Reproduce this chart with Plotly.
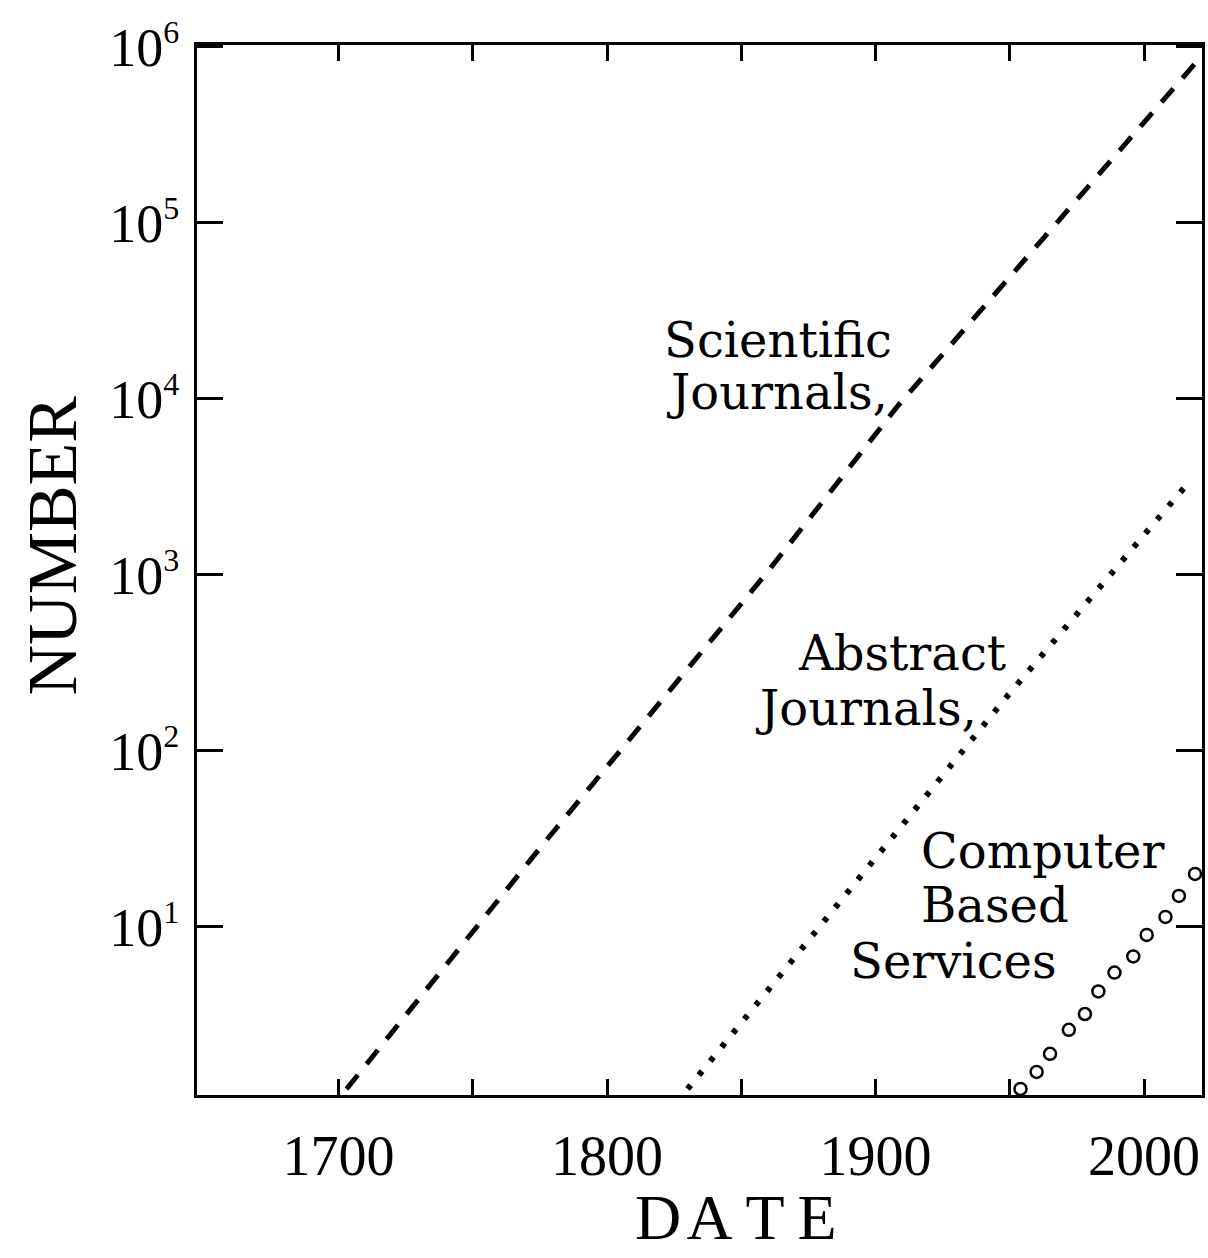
import plotly.graph_objects as go

# ---- data ----
sci_years = [1703, 1775, 1860, 1908, 2021]
sci_values = [1.2, 28, 1050, 9000, 870000]

abs_years = [1830, 1887, 1949, 2017]
abs_values = [1.2, 14, 204, 3400]

cbs_years = [1954, 1960, 1965, 1972, 1978, 1983, 1989, 1996, 2001, 2008, 2013, 2019]
cbs_values = [1.2, 1.5, 1.9, 2.6, 3.2, 4.3, 5.5, 6.8, 9.0, 11.4, 15, 20]

x_tickvals = [1700, 1800, 1900, 2000]
x_ticktext = ["1700", "1800", "1900", "2000"]
x_minor_tickvals = [1750, 1850, 1950]
y_tickvals = [10, 100, 1000, 10000, 100000, 1000000]
y_exponents = ["1", "2", "3", "4", "5", "6"]
y_ticktext = ["10<sup><span style='font-size:32px'>%s</span></sup>" % e for e in y_exponents]

W, H = 1208, 1258
L, T = 197, 45
PW, PH = 1008, 1050
R = W - L - PW
B = H - T - PH

def px(x):
    return (x - L) / PW

def py(y):
    return (T + PH - y) / PH

SERIF = "Liberation Serif, Times New Roman, serif"
TYPE = "DejaVu Serif, serif"

fig = go.Figure()
fig.add_trace(go.Scatter(x=sci_years, y=sci_values, mode="lines",
                         line=dict(color="black", width=5, dash="18px,14px"),
                         name="Scientific Journals", showlegend=False))
fig.add_trace(go.Scatter(x=abs_years, y=abs_values, mode="lines",
                         line=dict(color="black", width=6, dash="5px,13px"),
                         name="Abstract Journals", showlegend=False))
fig.add_trace(go.Scatter(x=cbs_years, y=cbs_values, mode="markers",
                         marker=dict(symbol="circle-open", size=12, color="black",
                                     line=dict(width=2.5, color="black")),
                         name="Computer Based Services", showlegend=False))

labels = [
    ("Scientific", 663, 340),
    ("Journals,", 665, 392),
    ("Abstract", 798, 653),
    ("Journals,", 755, 708),
    ("Computer", 921, 851),
    ("Based", 921, 905),
    ("Services", 850, 961),
]
for txt, lx, ly in labels:
    fig.add_annotation(x=px(lx), y=py(ly), xref="paper", yref="paper",
                       text=txt, showarrow=False, xanchor="left", yanchor="middle",
                       font=dict(family=TYPE, size=48, color="black"))

fig.add_annotation(x=px(52), y=py(545), xref="paper", yref="paper", text="NUMBER",
                   textangle=-90, showarrow=False, xanchor="center", yanchor="middle",
                   font=dict(family=SERIF, size=70, color="black"))
fig.add_annotation(x=px(738), y=py(1217), xref="paper", yref="paper",
                   text="D\u200aA\u2009T\u2009E", showarrow=False,
                   xanchor="center", yanchor="middle",
                   font=dict(family=SERIF, size=64, color="black"))

fig.update_xaxes(range=[1647.3, 2021.6], tickmode="array", tickvals=x_tickvals,
                 ticktext=x_ticktext, ticks="inside", ticklen=16, tickwidth=3,
                 tickcolor="black", showline=True, linewidth=3, linecolor="black",
                 mirror="ticks", showgrid=False, zeroline=False,
                 minor=dict(tickmode="array", tickvals=x_minor_tickvals,
                            ticks="inside", ticklen=16, tickwidth=3,
                            tickcolor="black", showgrid=False),
                 tickfont=dict(family=SERIF, size=56, color="black"),
                 ticklabelstandoff=10)
fig.update_yaxes(type="log", range=[0.045, 6.01], tickmode="array",
                 tickvals=y_tickvals, ticktext=y_ticktext, ticks="inside",
                 ticklen=26, tickwidth=3, tickcolor="black", showline=True,
                 linewidth=3, linecolor="black", mirror="ticks", showgrid=False,
                 zeroline=False,
                 tickfont=dict(family=SERIF, size=54, color="black"),
                 ticklabelstandoff=4)

fig.update_layout(width=W, height=H, autosize=False,
                  margin=dict(l=L, r=R, t=T, b=B),
                  paper_bgcolor="white", plot_bgcolor="white")

fig.write_html("out.html", config={"displayModeBar": False},
               post_script="document.body.style.margin='0';"
                           "document.body.style.overflow='hidden';")
